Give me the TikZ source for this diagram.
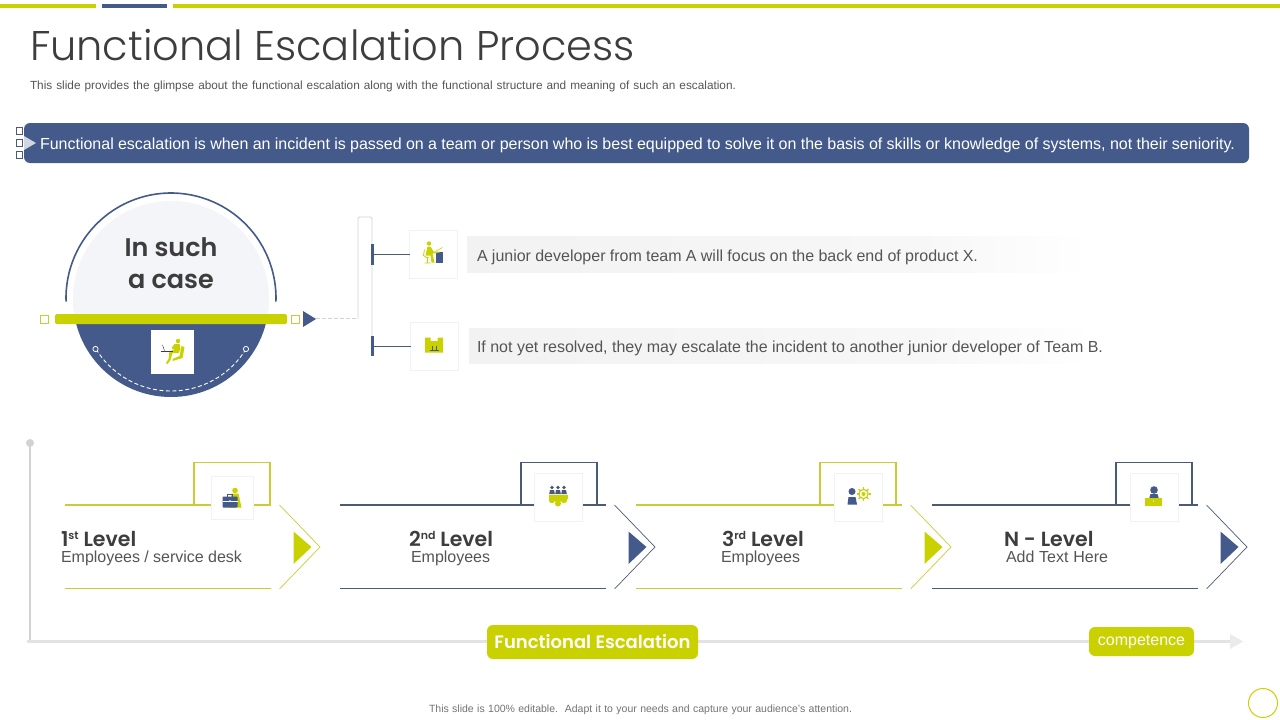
\documentclass[tikz,border=0pt]{standalone}
\usepackage{fontspec}
\setmainfont{Liberation Sans}
\newfontfamily\headf{Poppins SemiBold}
\newfontfamily\titlef{Poppins Light}
\usetikzlibrary{calc}
\definecolor{navy}{HTML}{435A8A}
\definecolor{lime}{HTML}{C9D200}
\definecolor{limeline}{HTML}{C9CC35}
\definecolor{navyline}{HTML}{4B5B76}
\definecolor{txt}{HTML}{555555}
\definecolor{dark}{HTML}{3D3D3D}
\definecolor{softgray}{HTML}{D2D2D2}
\definecolor{circfill}{HTML}{F4F5F8}
\pgfdeclarehorizontalshading{bandfade}{100bp}{color(0bp)=(black!5); color(25bp)=(black!5); color(62bp)=(black!3); color(75bp)=(white); color(100bp)=(white)}
\tikzset{
  x=1pt,y=-1pt,
  txtnode/.style={inner sep=0pt,outer sep=0pt,anchor=base west,text=txt},
  iconbox/.style={draw=black!5,line width=0.8pt,fill=white,inner sep=0pt,outer sep=0pt,minimum width=48pt,minimum height=48pt},
  smallsq/.style={draw=#1,fill=white,line width=0.8pt,inner sep=0pt,outer sep=0pt,minimum size=8pt},
  pill/.style={fill=lime,rounded corners=6pt,text=white,inner sep=0pt,outer sep=0pt},
  stub/.style={fill=navy,inner sep=0pt,outer sep=0pt,minimum width=3pt},
  band/.style={shading=bandfade,draw=none,inner sep=0pt,outer sep=0pt},
  conn/.style={draw=navyline,line width=1pt}
}
\newcommand{\levelrow}[5]{%
 % #1 line start, #2 line end, #3 line colour, #4 triangle colour, #5 box left
 \draw[#3,line width=1.1pt] (#1,505) -- (#2,505);
 \draw[#3,line width=1.1pt] (#1,588.5) -- (#2,588.5);
 \draw[#3,line width=1.1pt] (#5,505) -- (#5,462.5) -- (#5+76,462.5) -- (#5+76,505);
 \draw[#3,line width=0.7pt] (#2+8.5,505) -- (#2+49,547) -- (#2+8.5,589);
 \fill[#4] (#2+22.5,531.5) -- (#2+40.5,547) -- (#2+22.5,564) -- cycle;
}
\begin{document}
\begin{tikzpicture}
\useasboundingbox (0,0) rectangle (1280,720);
\fill[white] (0,0) rectangle (1280,720);
% top bars
\fill[lime] (0,4) rectangle (96,8);
\fill[navy] (102,4) rectangle (167,8);
\fill[lime] (173,4) rectangle (1280,8);
% title
\node[txtnode,text=dark] (title) at (30,60) {\titlef\fontsize{41.5}{50}\selectfont Functional Escalation Process};
\node[txtnode] (subtitle) at (30,89) {\makebox[706pt][s]{\fontsize{11.8}{14}\selectfont This slide provides the glimpse about the functional escalation along with the functional structure and meaning of such an escalation.}};
% banner
\fill[navy,rounded corners=6pt] (24,123) rectangle (1249,163);
\fill[navy!25] (24,136) -- (36,143) -- (24,150) -- cycle;
\foreach \yy/\nm in {131/a,143/b,155/c}
  \node[smallsq=navyline,minimum size=6.5pt] (bsq\nm) at (19.5,\yy) {};
\node[txtnode,text=white] (bannertext) at (40,149) {\makebox[1195pt][s]{\fontsize{16}{20}\selectfont Functional escalation is when an incident is passed on a team or person who is best equipped to solve it on the basis of skills or knowledge of systems, not their seniority.}};
% circle
\fill[circfill] (171,299) circle[radius=98pt];
\begin{scope}
  \clip (60,319) rectangle (282,400);
  \fill[navy] (171,299) circle[radius=98pt];
\end{scope}
\draw[navy,line width=1.6pt] plot[domain=178:362,samples=60] ({171+105*cos(\x)},{298+105*sin(\x)});
\fill[lime,rounded corners=1.5pt] (55,314) rectangle (287,324);
\node[smallsq=limeline] (lsq) at (44.5,319.5) {};
\node[smallsq=limeline] (rsq) at (295.5,319.5) {};
\fill[navy] (303,311) -- (316,319) -- (303,327) -- cycle;
\node[txtnode,anchor=base,text=dark] (such) at (171,256) {\headf\fontsize{25.5}{30}\selectfont In such};
\node[txtnode,anchor=base,text=dark] (acase) at (171,288) {\headf\fontsize{25.5}{30}\selectfont a case};
% dashed arc with end dots
\draw[white,line width=0.9pt,dash pattern=on 4pt off 2.5pt] plot[domain=31.5:148.5,samples=50] ({171+88*cos(\x)},{303+88*sin(\x)});
\draw[white,line width=0.8pt,fill=navy] (95.5,349) circle[radius=2.6pt];
\draw[white,line width=0.8pt,fill=navy] (246,349) circle[radius=2.6pt];
% main icon
\node[fill=white,inner sep=0pt,minimum width=43pt,minimum height=44pt] (mainicon) at (172.5,352) {};
\begin{scope}[shift={(172.5,352)}]
  \fill[lime] (5.5,-11) circle[radius=2.2pt];
  \fill[lime] (2,-8) -- (7,-8) -- (8,-3) -- (6,1) -- (0,1) -- (-2,8) -- (-5,12) -- (-6.5,11) -- (-4,7) -- (-3,-1) -- (2,-2) -- (-1,-4) -- cycle;
  \fill[lime] (9,-6) -- (12,-5) -- (10,6) -- (0,9) -- (0,7) -- (7,4) -- cycle;
  \draw[dark,line width=0.9pt] (-12,-1) -- (0,-1);
  \draw[dark,line width=0.5pt] (-8,-1.5) -- (-10,-7);
\end{scope}
% bracket
\coordinate (dashstart) at (316,318.5);
\coordinate (brkA) at (358,318.5);
\coordinate (brkB) at (358,217);
\coordinate (brkC) at (372,217);
\coordinate (brkD) at (372,355);
\draw[softgray,line width=0.8pt,dash pattern=on 4pt off 2pt] (dashstart) -- (brkA);
\draw[softgray,line width=0.9pt,rounded corners=1.5pt] (brkA) -- (brkB) -- (brkC) -- (brkD);
\node[stub,minimum height=21pt] (stubA) at (372.5,254.5) {};
\node[stub,minimum height=20pt] (stubB) at (372.5,346) {};
\node[iconbox] (iconA) at (433.5,254.5) {};
\node[iconbox] (iconB) at (434.5,346) {};
\draw[conn] (stubA.east) -- (iconA.west);
\draw[conn] (stubB.east) -- (iconB.west);
% icon A
\begin{scope}[shift={(433.5,254.5)}]
  \fill[navy] (2.5,-2.5) rectangle (9,8.5);
  \fill[lime] (-4.5,-11) circle[radius=2.2pt];
  \fill[lime] (-6,-8) -- (-3,-8) -- (0,-3) -- (6,-3) -- (6,-2) -- (-1,-1) -- (1,8) -- (-2,8) -- (-3,1) -- (-8,1) -- cycle;
  \draw[lime,line width=0.8pt] (-9,-5) -- (-10,1) -- (-7,3) -- (-5,3) (-6,3)--(-6,8) (-9,8.5)--(-3,8.5);
  \draw[lime,line width=0.6pt] (2,-3) -- (9,-7);
\end{scope}
% icon B
\begin{scope}[shift={(434.5,346)}]
  \fill[lime] (-9.5,-8.5) -- (-4,-8.5) -- (-4,-5) -- (3,-5) -- (3,-8.5) -- (8.5,-8.5) -- (8.5,6.5) -- (-9.5,6.5) -- cycle;
  \draw[navyline,line width=0.8pt] (-5,4) -- (4,4) (-2.5,0) -- (-2.5,3.5) (1.5,0) -- (1.5,3.5);
\end{scope}
% text bands
\node[band,minimum width=623pt,minimum height=36pt,anchor=north west] (bandA) at (467,236) {};
\node[band,minimum width=626pt,minimum height=35pt,anchor=north west] (bandB) at (469,328) {};
\node[txtnode] (textA) at (477,261) {\makebox[501pt][s]{\fontsize{16}{20}\selectfont A junior developer from team A will focus on the back end of product X.}};
\node[txtnode] (textB) at (477,352) {\makebox[626pt][s]{\fontsize{16}{20}\selectfont If not yet resolved, they may escalate the incident to another junior developer of Team B.}};
% timeline
\coordinate (axisTop) at (30,443);
\coordinate (axisCorner) at (30,641.5);
\coordinate (axisEnd) at (1231,641.5);
\draw[softgray,line width=2pt] (axisTop) -- (axisCorner);
\fill[softgray] (axisTop) circle[radius=4pt];
\draw[black!11,line width=3pt] (27,641.5) -- (axisEnd);
\fill[black!8] (1230,634) -- (1243,641.5) -- (1230,649) -- cycle;
% level rows
\levelrow{65}{271}{limeline}{lime}{194}
\levelrow{340}{606}{navyline}{navy}{521}
\levelrow{636}{902}{limeline}{lime}{820}
\levelrow{932}{1198}{navyline}{navy}{1116}
\node[iconbox,minimum width=42pt,minimum height=43pt] (lvA) at (232.5,497.5) {};
\node[iconbox] (lvB) at (558,497) {};
\node[iconbox] (lvC) at (858,497) {};
\node[iconbox] (lvD) at (1154,497) {};
% level icons
\begin{scope}[shift={(232.5,497.5)}]
  \fill[lime] (2.5,-7) circle[radius=2.8pt];
  \fill[lime] (-1,-4) -- (6,-4) -- (9,10) -- (-3,10) -- cycle;
  \fill[navy,rounded corners=0.8pt] (-10,-1) rectangle (5,10);
  \draw[navy,line width=0.9pt] (-5,-1) -- (-5,-3.5) -- (0,-3.5) -- (0,-1);
  \draw[white,line width=0.6pt] (-10,3.5) -- (5,3.5);
  \fill[white] (-2.5,3.5) circle[radius=1pt];
\end{scope}
\begin{scope}[shift={(558,497)}]
  \foreach \dx in {-6,0,6}{
    \fill[navyline] (\dx,-9.5) circle[radius=1.8pt];
    \fill[navyline] (\dx-2.8,-3) -- (\dx-2,-7) -- (\dx+2,-7) -- (\dx+2.8,-3) -- cycle;
  }
  \fill[lime] (-9.5,-2) rectangle (9.5,2);
  \foreach \dx in {-6,0,6}{\fill[lime] (\dx,3) circle[radius=3.2pt];}
  \fill[lime] (0,6.5) circle[radius=3pt];
\end{scope}
\begin{scope}[shift={(858,497)}]
  \fill[navy] (-6,-5.5) circle[radius=3.5pt];
  \fill[navy] (-10.5,7.5) -- (-9.5,0) -- (-2.5,0) -- (-1,7.5) -- cycle;
  \draw[lime,line width=1.2pt] (5.5,-3) circle[radius=4.6pt];
  \fill[lime] (5.5,-3) circle[radius=2pt];
  \foreach \a in {0,45,...,315}{\draw[lime,line width=1.3pt] ($(5.5,-3)+(\a:5pt)$) -- ($(5.5,-3)+(\a:7pt)$);}
\end{scope}
\begin{scope}[shift={(1154,497)}]
  \fill[navy] (0,-7) circle[radius=3.8pt];
  \fill[navy] (-5,2) -- (-3.5,-3) -- (3.5,-3) -- (5,2) -- cycle;
  \fill[lime] (-9,1) rectangle (8,9);
  \fill[white] (-0.5,4) circle[radius=0.6pt];
\end{scope}
% level labels
\newcommand{\ordn}[1]{\raisebox{0.55ex}{\fontsize{11}{12}\selectfont #1}}
\node[txtnode,text=dark] (l1) at (61,546) {\headf\fontsize{20.5}{24}\selectfont 1\ordn{st} Level};
\node[txtnode] (s1) at (61,562.5) {\makebox[181pt][s]{\fontsize{16}{20}\selectfont Employees / service desk}};
\node[txtnode,text=dark] (l2) at (409,546) {\headf\fontsize{20.5}{24}\selectfont 2\ordn{nd} Level};
\node[txtnode] (s2) at (411,562.5) {\fontsize{16}{20}\selectfont Employees};
\node[txtnode,text=dark] (l3) at (722,546) {\headf\fontsize{20.5}{24}\selectfont 3\ordn{rd} Level};
\node[txtnode] (s3) at (721,562.5) {\fontsize{16}{20}\selectfont Employees};
\node[txtnode,text=dark] (l4) at (1004,546) {\headf\fontsize{20.5}{24}\selectfont N - Level};
\node[txtnode] (s4) at (1006,562.5) {\makebox[102pt][s]{\fontsize{16}{20}\selectfont Add Text Here}};
% pills
\node[pill,minimum width=211pt,minimum height=34pt] (fe) at (592.5,642) {\headf\fontsize{18}{22}\selectfont Functional Escalation};
\node[pill,minimum width=105pt,minimum height=29pt] (comp) at (1141.5,641.5) {\fontsize{16}{20}\selectfont competence};
% footer
\node[txtnode,text=black!55] (foot) at (429,712) {\makebox[423pt][s]{\fontsize{10.5}{12}\selectfont This slide is 100\% editable.\ \ Adapt it to your needs and capture your audience's attention.}};
\draw[lime,line width=1pt,fill=white] (1263,703) circle[radius=14.5pt];
\end{tikzpicture}
\end{document}
